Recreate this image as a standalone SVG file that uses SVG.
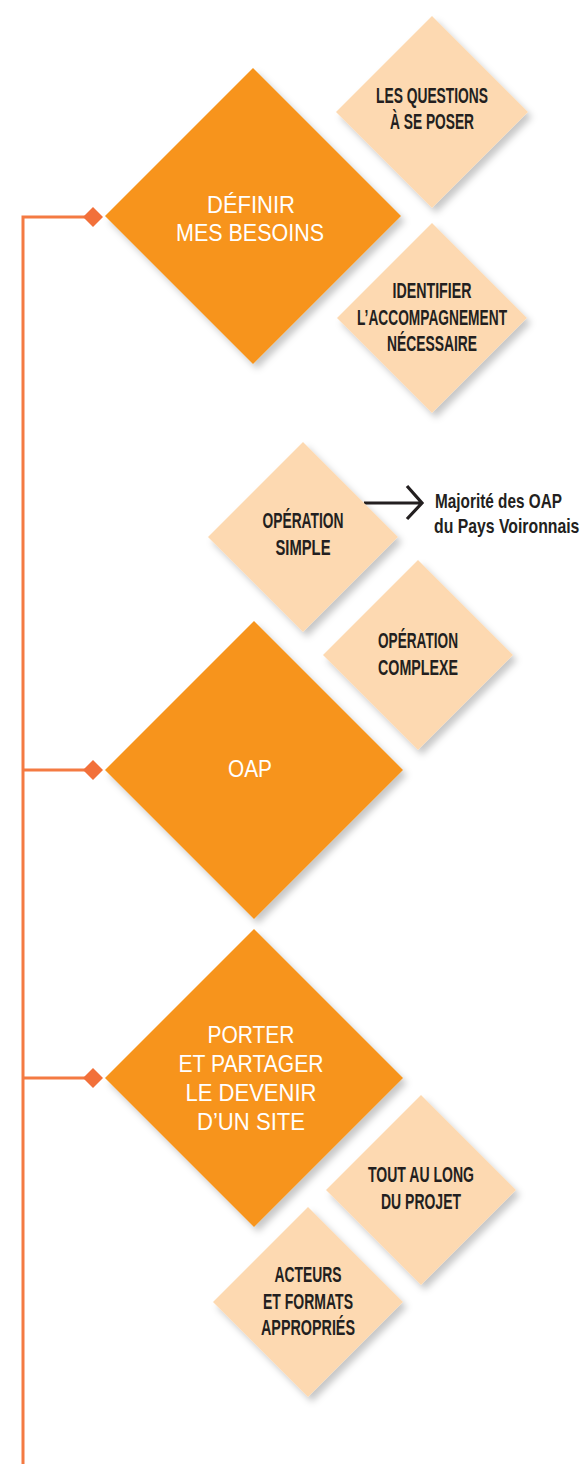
<svg xmlns="http://www.w3.org/2000/svg" width="586" height="1464" viewBox="0 0 586 1464">
  <defs>
    <filter id="sh" x="-20%" y="-20%" width="150%" height="150%">
      <feDropShadow dx="4" dy="5" stdDeviation="3.5" flood-color="#000000" flood-opacity="0.22"/>
    </filter>
  </defs>
  <style>
    .big { fill: #f7941d; filter: url(#sh); }
    .small { fill: #fdd9b1; filter: url(#sh); }
    .bt { font-family: "Liberation Sans", Arial, sans-serif; font-size: 24px; fill: #ffffff; text-anchor: middle; }
    .st { font-family: "Liberation Sans", Arial, sans-serif; font-weight: bold; font-size: 22.5px; fill: #231f20; text-anchor: middle; }
    .nt { font-family: "Liberation Sans", Arial, sans-serif; font-weight: bold; font-size: 20px; fill: #231f20; }
    .line { stroke: #f47a42; stroke-width: 3; fill: none; }
    .mk { fill: #f2703a; }
  </style>
  <rect width="586" height="1464" fill="#ffffff"/>

  <g id="connectors">
    <path class="line" d="M23,1464 V217 H86 M23,770 H86 M23,1078 H86"/>
    <path class="mk" d="M93,207 L103,217 L93,227 L83,217 Z"/>
    <path class="mk" d="M93,760 L103,770 L93,780 L83,770 Z"/>
    <path class="mk" d="M93,1068 L103,1078 L93,1088 L83,1078 Z"/>
    <path d="M364,503 H421 M407,486 L422,503 L407,519" stroke="#231f20" stroke-width="3.2" fill="none"/>
  </g>

  <g id="definir">
    <path class="big" d="M253,68 L401,216 L253,364 L105,216 Z"/>
    <text class="bt" x="251" y="213" textLength="88" lengthAdjust="spacingAndGlyphs">DÉFINIR</text>
    <text class="bt" x="250" y="241" textLength="148" lengthAdjust="spacingAndGlyphs">MES BESOINS</text>
  </g>

  <g id="questions">
    <path class="small" d="M432,16 L528,112 L432,208 L336,112 Z"/>
    <text class="st" x="432" y="103" textLength="112" lengthAdjust="spacingAndGlyphs">LES QUESTIONS</text>
    <text class="st" x="432" y="129" textLength="84" lengthAdjust="spacingAndGlyphs">À SE POSER</text>
  </g>

  <g id="identifier">
    <path class="small" d="M432,223 L527,318 L432,413 L337,318 Z"/>
    <text class="st" x="432" y="298" textLength="79" lengthAdjust="spacingAndGlyphs">IDENTIFIER</text>
    <text class="st" transform="translate(432,325) scale(0.611,1)" x="0" y="0">L’ACCOMPAGNEMENT</text>
    <text class="st" x="432" y="351" textLength="90" lengthAdjust="spacingAndGlyphs">NÉCESSAIRE</text>
  </g>

  <g id="operation-simple">
    <path class="small" d="M303,442 L398,537 L303,632 L208,537 Z"/>
    <text class="st" x="303" y="528" textLength="81" lengthAdjust="spacingAndGlyphs">OPÉRATION</text>
    <text class="st" x="303" y="555" textLength="55" lengthAdjust="spacingAndGlyphs">SIMPLE</text>
  </g>

  <g id="majorite">
    <text class="nt" transform="translate(435,508) scale(0.767,1)" x="0" y="0">Majorité des OAP</text>
    <text class="nt" transform="translate(434,533) scale(0.79,1)" x="0" y="0">du Pays Voironnais</text>
  </g>

  <g id="operation-complexe">
    <path class="small" d="M418,560 L513,655 L418,750 L323,655 Z"/>
    <text class="st" x="418" y="648" textLength="80" lengthAdjust="spacingAndGlyphs">OPÉRATION</text>
    <text class="st" x="418" y="675" textLength="80" lengthAdjust="spacingAndGlyphs">COMPLEXE</text>
  </g>

  <g id="oap">
    <path class="big" d="M254,621 L403,770 L254,919 L105,770 Z"/>
    <text class="bt" x="250" y="777" textLength="44" lengthAdjust="spacingAndGlyphs">OAP</text>
  </g>

  <g id="porter">
    <path class="big" d="M254,929 L403,1078 L254,1227 L105,1078 Z"/>
    <text class="bt" x="251" y="1043" textLength="87" lengthAdjust="spacingAndGlyphs">PORTER</text>
    <text class="bt" x="251" y="1072" textLength="145" lengthAdjust="spacingAndGlyphs">ET PARTAGER</text>
    <text class="bt" x="251" y="1101" textLength="131" lengthAdjust="spacingAndGlyphs">LE DEVENIR</text>
    <text class="bt" x="251" y="1130" textLength="108" lengthAdjust="spacingAndGlyphs">D’UN SITE</text>
  </g>

  <g id="tout-au-long">
    <path class="small" d="M421,1095 L516,1190 L421,1285 L326,1190 Z"/>
    <text class="st" x="421" y="1182" textLength="106" lengthAdjust="spacingAndGlyphs">TOUT AU LONG</text>
    <text class="st" x="421" y="1209" textLength="80" lengthAdjust="spacingAndGlyphs">DU PROJET</text>
  </g>

  <g id="acteurs">
    <path class="small" d="M308,1207 L403,1302 L308,1397 L213,1302 Z"/>
    <text class="st" x="308" y="1282" textLength="67" lengthAdjust="spacingAndGlyphs">ACTEURS</text>
    <text class="st" x="308" y="1309" textLength="90" lengthAdjust="spacingAndGlyphs">ET FORMATS</text>
    <text class="st" x="308" y="1335" textLength="94" lengthAdjust="spacingAndGlyphs">APPROPRIÉS</text>
  </g>
</svg>
